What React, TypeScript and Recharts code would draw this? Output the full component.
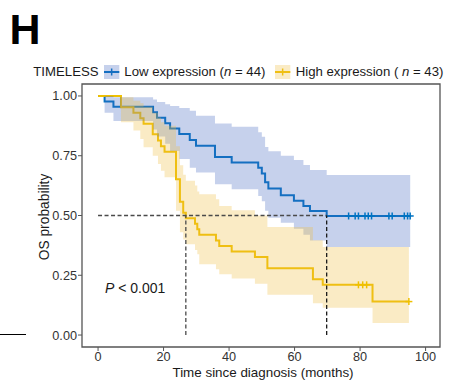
import React from 'react';
import {
  ComposedChart, Area, XAxis, YAxis, ReferenceLine, ReferenceArea,
} from 'recharts';

// Low expression (n = 44)
const lowTime = [0, 2, 4.7, 16.8, 18, 20.5, 22, 24.8, 28, 29.9, 35.7, 40.8, 48.9, 50, 51, 52, 55.8, 59.8, 62.7, 64.7, 69.8, 95.3];
const lowSurv = [1, 0.977, 0.955, 0.932, 0.909, 0.886, 0.864, 0.841, 0.816, 0.792, 0.745, 0.722, 0.7, 0.676, 0.639, 0.613, 0.585, 0.562, 0.54, 0.519, 0.498, 0.498];
const lowLower = [1, 0.93, 0.895, 0.86, 0.83, 0.8, 0.77, 0.736, 0.7, 0.68, 0.631, 0.61, 0.582, 0.56, 0.52, 0.491, 0.47, 0.445, 0.42, 0.395, 0.368, 0.368];
const lowUpper = [1, 1, 0.995, 0.985, 0.975, 0.965, 0.958, 0.95, 0.938, 0.917, 0.885, 0.871, 0.848, 0.829, 0.787, 0.769, 0.75, 0.732, 0.711, 0.69, 0.669, 0.669];
const lowCensorTime = [76.5, 78.5, 79.5, 81.5, 82.5, 83.5, 88.8, 89.8, 93.5, 94.5, 95.3];
const lowCensorSurv = [0.498, 0.498, 0.498, 0.498, 0.498, 0.498, 0.498, 0.498, 0.498, 0.498, 0.498];

// High expression (n = 43)
const highTime = [0, 7, 10.8, 12.9, 13.9, 16.7, 18.3, 19.2, 20.3, 23.8, 25, 26, 26.8, 29.6, 30.3, 30.9, 36, 37, 40.8, 47.9, 51.7, 65.6, 68.6, 83.8, 94.9];
const highSurv = [1, 0.953, 0.93, 0.907, 0.884, 0.84, 0.814, 0.79, 0.767, 0.652, 0.558, 0.512, 0.488, 0.465, 0.442, 0.419, 0.395, 0.372, 0.349, 0.326, 0.279, 0.233, 0.21, 0.14, 0.14];
const highLower = [1, 0.89, 0.855, 0.82, 0.785, 0.75, 0.715, 0.687, 0.66, 0.52, 0.43, 0.4, 0.38, 0.356, 0.338, 0.296, 0.275, 0.254, 0.236, 0.215, 0.169, 0.133, 0.114, 0.05, 0.05];
const highUpper = [1, 0.995, 0.98, 0.97, 0.955, 0.93, 0.91, 0.89, 0.875, 0.79, 0.71, 0.67, 0.645, 0.625, 0.6, 0.589, 0.568, 0.54, 0.522, 0.5, 0.452, 0.396, 0.368, 0.368, 0.368];
const highCensorTime = [79.5, 80.8, 82, 94.9];
const highCensorSurv = [0.21, 0.21, 0.21, 0.14];

// median survival (high, low)
const medians = [26.8, 69.8];

const xTicks = [0, 20, 40, 60, 80, 100];
const yTicks = [0, 0.25, 0.5, 0.75, 1];

const FONT = '"Liberation Sans", Arial, Helvetica, sans-serif';
const BLUE = '#0073C2';
const YELLOW = '#EFC000';
const BLUE_FILL = '#4166C0';
const YELLOW_FILL = '#EEBC3E';
const AXIS = '#555555';

const toCurve = (t: number[], s: number[]) => t.map((x, i) => ({ t: x, s: s[i] }));
const toBand = (t: number[], lo: number[], hi: number[]) =>
  t.map((x, i) => ({ t: x, range: [lo[i], hi[i]] }));

const lowCurve = toCurve(lowTime, lowSurv);
const highCurve = toCurve(highTime, highSurv);
const lowBand = toBand(lowTime, lowLower, lowUpper);
const highBand = toBand(highTime, highLower, highUpper);
const lowCensor = toCurve(lowCensorTime, lowCensorSurv);
const highCensor = toCurve(highCensorTime, highCensorSurv);

const censorDot = (color: string) => (props: any) => {
  const { cx, cy, index } = props;
  if (cx == null || cy == null) return <g key={`e-${index}`} />;
  return (
    <g key={`c-${index}`}>
      <line x1={cx - 3.5} x2={cx + 3.5} y1={cy} y2={cy} stroke={color} strokeWidth={1.5} />
      <line x1={cx} x2={cx} y1={cy - 3.5} y2={cy + 3.5} stroke={color} strokeWidth={1.5} />
    </g>
  );
};

function LegendKey({ x, line, fill }: { x: number; line: string; fill: string }) {
  return (
    <g>
      <line x1={x} x2={x + 15.3} y1={72} y2={72} stroke={line} strokeWidth={2} />
      <line x1={x + 7.65} x2={x + 7.65} y1={68.5} y2={75.5} stroke={line} strokeWidth={1.5} />
      <rect x={x} y={65} width={15.3} height={14} fill={fill} fillOpacity={0.3} />
    </g>
  );
}

export default function App() {
  const tickStyle = { fontSize: 12.7, fill: '#333', fontFamily: FONT };
  return (
    <div style={{ position: 'absolute', left: 0, top: 0, width: 473, height: 388, background: '#fff' }}>
      <ComposedChart width={473} height={388} margin={{ top: 84, right: 33, bottom: 11, left: 42 }}>
        <XAxis dataKey="t" type="number" domain={[-4.9, 104.4]} ticks={xTicks} allowDataOverflow
          axisLine={false} tickLine={{ stroke: AXIS }} tickSize={4} tickMargin={1} height={30}
          tick={tickStyle} interval={0} />
        <YAxis type="number" domain={[-0.05, 1.05]} ticks={yTicks} allowDataOverflow
          axisLine={false} tickLine={{ stroke: AXIS }} tickSize={4} tickMargin={1} width={40}
          tick={tickStyle} interval={0} tickFormatter={(v: number) => v.toFixed(2)} />

        {/* curves first, then confidence bands on top (as survminer draws them) */}
        <Area data={lowCurve} dataKey="s" type="stepAfter" stroke={BLUE} strokeWidth={2}
          fill="none" dot={false} isAnimationActive={false} />
        <Area data={highCurve} dataKey="s" type="stepAfter" stroke={YELLOW} strokeWidth={2}
          fill="none" dot={false} isAnimationActive={false} />
        <Area data={lowCensor} dataKey="s" stroke="none" fill="none" dot={censorDot(BLUE)}
          isAnimationActive={false} />
        <Area data={highCensor} dataKey="s" stroke="none" fill="none" dot={censorDot(YELLOW)}
          isAnimationActive={false} />

        <Area data={lowBand} dataKey="range" type="stepAfter" stroke="none" fill={BLUE_FILL}
          fillOpacity={0.3} isAnimationActive={false} />
        <Area data={highBand} dataKey="range" type="stepAfter" stroke="none" fill={YELLOW_FILL}
          fillOpacity={0.3} isAnimationActive={false} />

        <ReferenceLine segment={[{ x: 0, y: 0.5 }, { x: medians[1], y: 0.5 }]}
          stroke="#4a4a4a" strokeWidth={1.3} strokeDasharray="4 2.5" />
        <ReferenceLine segment={[{ x: medians[0], y: 0 }, { x: medians[0], y: 0.5 }]}
          stroke="#4a4a4a" strokeWidth={1.3} strokeDasharray="4 2.5" />
        <ReferenceLine segment={[{ x: medians[1], y: 0 }, { x: medians[1], y: 0.5 }]}
          stroke="#1a1a1a" strokeWidth={1.3} strokeDasharray="4 2.5" />

        <ReferenceArea x1={-4.9} x2={104.4} y1={-0.05} y2={1.05} fill="none"
          stroke={AXIS} strokeWidth={1.3} ifOverflow="visible" />
      </ComposedChart>

      <svg width={473} height={388} style={{ position: 'absolute', left: 0, top: 0, pointerEvents: 'none' }}
        fontFamily={FONT}>
        <text x={9.5} y={43.5} fontSize={43} fontWeight="bold" fill="#000">H</text>
        <line x1={0} x2={26} y1={334.5} y2={334.5} stroke="#000" strokeWidth={1} />

        <text x={33.3} y={76.4} fontSize={13.2} fill="#1a1a1a">TIMELESS</text>
        <LegendKey x={104} line={BLUE} fill={BLUE_FILL} />
        <text x={124.3} y={76.4} fontSize={13.2} fill="#1a1a1a">
          Low expression (<tspan fontStyle="italic">n</tspan> = 44)
        </text>
        <LegendKey x={275} line={YELLOW} fill={YELLOW_FILL} />
        <text x={295.7} y={76.4} fontSize={13.2} fill="#1a1a1a">
          High expression ( <tspan fontStyle="italic">n</tspan> = 43)
        </text>

        <text x={105} y={293.3} fontSize={14} fill="#1a1a1a">
          <tspan fontStyle="italic">P</tspan> &lt; 0.001
        </text>

        <text x={263} y={376.5} fontSize={13.4} fill="#1a1a1a" textAnchor="middle">
          Time since diagnosis (months)
        </text>
        <text x={49} y={217} fontSize={13.8} fill="#1a1a1a" textAnchor="middle"
          transform="rotate(-90 49 217)">OS probability</text>
      </svg>
    </div>
  );
}
